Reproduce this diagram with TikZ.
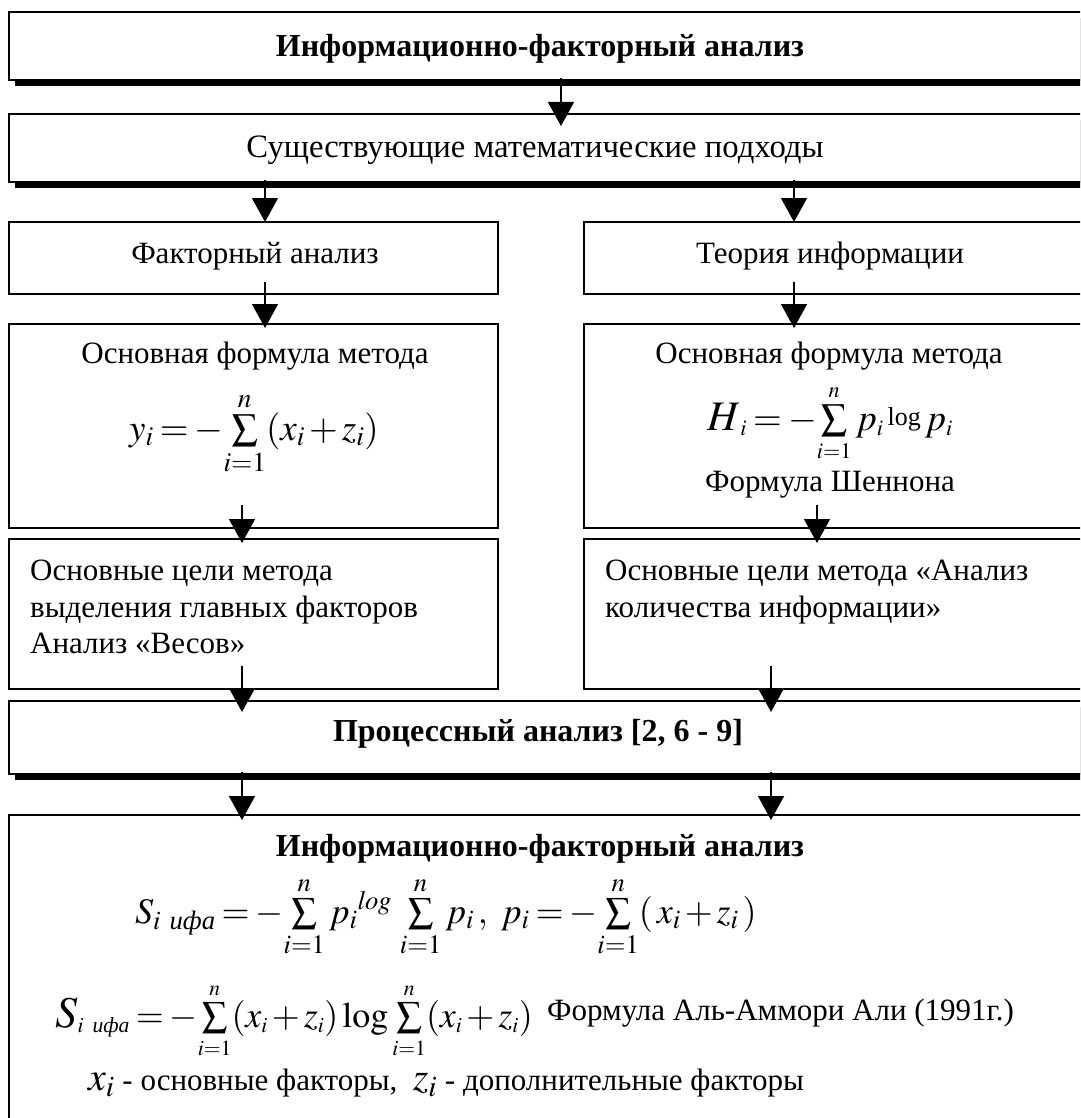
\documentclass[tikz,border=0pt]{standalone}
\usepackage{amsmath}
\usepackage{mathptmx}
\usepackage[no-math]{fontspec}
\setmainfont{Liberation Serif}
\usetikzlibrary{arrows.meta}
\thickmuskip=3mu
\medmuskip=2mu
\thinmuskip=2mu
\newcommand{\msum}{\mathord{-}\!\sum\limits}
\begin{document}
\begin{tikzpicture}[x=1pt,y=-1pt,
  box/.style={draw,line width=2pt,fill=white,anchor=north west,inner sep=0pt,outer sep=0pt},
  shadowbox/.style={fill=black,anchor=north west,inner sep=0pt,outer sep=0pt},
  arr/.style={line width=1.4pt,-{Triangle[width=26pt,length=24pt]}},
  txt/.style={inner sep=0pt,font=\fontsize{31}{37}\selectfont},
  btxt/.style={inner sep=0pt,font=\fontsize{32}{37}\selectfont\bfseries},
  fml/.style={inner sep=0pt,font=\fontsize{37}{46}\selectfont},
  fmls/.style={inner sep=0pt,font=\fontsize{36}{44}\selectfont},
]
\useasboundingbox (0,0) rectangle (1080,1118);
\clip (0,0) rectangle (1080,1118);
\fill[white] (0,0) rectangle (1080,1118);

% shadows
\node[shadowbox,minimum width=1081pt,minimum height=68pt] (s1) at (15,18) {};
\node[shadowbox,minimum width=1081pt,minimum height=68pt] (s2) at (15,120) {};
\node[shadowbox,minimum width=1081pt,minimum height=73pt] (s6) at (15,707) {};

% boxes
\node[box,minimum width=1081pt,minimum height=68pt] (b1) at (9,12) {};
\node[box,minimum width=1081pt,minimum height=68pt] (b2) at (9,114) {};
\node[box,minimum width=489pt,minimum height=72pt] (b3l) at (9,222) {};
\node[box,minimum width=506pt,minimum height=72pt] (b3r) at (584,222) {};
\node[box,minimum width=489pt,minimum height=204pt] (b4l) at (9,324) {};
\node[box,minimum width=506pt,minimum height=204pt] (b4r) at (584,324) {};
\node[box,minimum width=489pt,minimum height=150pt] (b5l) at (9,539) {};
\node[box,minimum width=506pt,minimum height=150pt] (b5r) at (584,539) {};
\node[box,minimum width=1081pt,minimum height=73pt] (b6) at (9,701) {};
\node[box,minimum width=1081pt,minimum height=400pt] (b7) at (9,815) {};

% texts
\node[btxt,anchor=base] (t1) at (540,57) {Информационно-факторный анализ};
\node[txt,anchor=base,font=\fontsize{32.7}{37}\selectfont] (t2) at (535,158) {Существующие математические подходы};
\node[txt,anchor=base] (t3l) at (255,263) {Факторный анализ};
\node[txt,anchor=base] (t3r) at (830,263) {Теория информации};
\node[txt,anchor=base] (t4l) at (255,363) {Основная формула метода};
\node[txt,anchor=base] (t4r) at (829,363) {Основная формула метода};
\node[fml,anchor=base] (f4l) at (254,440) {$y_i = \msum_{i=1}^{n}(x_i + z_i)$};
\node[fml,anchor=base] (f4r) at (830,430) {$\mbox{\fontsize{42}{42}\selectfont$H$}_{\scriptscriptstyle i} = \msum_{\scriptscriptstyle i=1}^{\scriptscriptstyle n} p_{\scriptscriptstyle i}\,\raisebox{5pt}{\fontsize{26}{26}\selectfont log}\, p_{\scriptscriptstyle i}$};
\node[txt,anchor=base] (t4r2) at (830,491) {Формула Шеннона};

\node[txt,anchor=base west] (t5l1) at (30,580) {Основные цели метода};
\node[txt,anchor=base west] (t5l2) at (30,617) {выделения главных факторов};
\node[txt,anchor=base west] (t5l3) at (30,653) {Анализ «Весов»};
\node[txt,anchor=base west] (t5r1) at (605,580) {Основные цели метода «Анализ};
\node[txt,anchor=base west] (t5r2) at (605,617) {количества информации»};

\node[btxt,anchor=base] (t6) at (538,741) {Процессный анализ [2, 6 - 9]};
\node[btxt,anchor=base] (t7) at (540,856) {Информационно-факторный анализ};
\node[fmls,anchor=base west] (f7a) at (135,923) {$S_{i\ \text{\itshape ифа}} = \msum_{i=1}^{n} p_i{}^{\mathit{log}}\, \sum\limits_{i=1}^{n} p_i\,,\ p_i = \msum_{i=1}^{n}(\,x_i + z_i\,)$};
\node[fmls,anchor=base west] (f7b) at (55,1027) {$\mbox{\fontsize{44}{44}\selectfont$S$}_{\scriptscriptstyle i\ \text{\itshape ифа}} = \msum_{\scriptscriptstyle i=1}^{\scriptscriptstyle n}(x_{\scriptscriptstyle i} + z_{\scriptscriptstyle i})\log\sum\limits_{\scriptscriptstyle i=1}^{\scriptscriptstyle n}(x_{\scriptscriptstyle i}+z_{\scriptscriptstyle i})$};
\node[txt,anchor=base west] (t7b) at (547,1020) {Формула Аль-Аммори Али (1991г.)};
\node[txt,anchor=base west] (t7c) at (88,1090) {{\fontsize{40}{40}\selectfont$x_i$} - основные факторы, \ {\fontsize{40}{40}\selectfont$z_i$} - дополнительные факторы};

% arrows
\coordinate (a1s) at (561,78);  \coordinate (a1e) at (561,126);
\coordinate (a2ls) at (265,180); \coordinate (a2le) at (265,222);
\coordinate (a2rs) at (794,180); \coordinate (a2re) at (794,222);
\coordinate (a3ls) at (265,282); \coordinate (a3le) at (265,328);
\coordinate (a3rs) at (794,282); \coordinate (a3re) at (794,328);
\coordinate (a4ls) at (242,505); \coordinate (a4le) at (242,543);
\coordinate (a4rs) at (817,505); \coordinate (a4re) at (817,543);
\coordinate (a5ls) at (242,666); \coordinate (a5le) at (242,712);
\coordinate (a5rs) at (771,666); \coordinate (a5re) at (771,712);
\coordinate (a6ls) at (242,772); \coordinate (a6le) at (242,820);
\coordinate (a6rs) at (771,772); \coordinate (a6re) at (771,820);
\foreach \a in {a1,a2l,a2r,a3l,a3r,a4l,a4r,a5l,a5r,a6l,a6r}{
  \draw[arr] (\a s) -- (\a e);
}
\end{tikzpicture}
\end{document}
